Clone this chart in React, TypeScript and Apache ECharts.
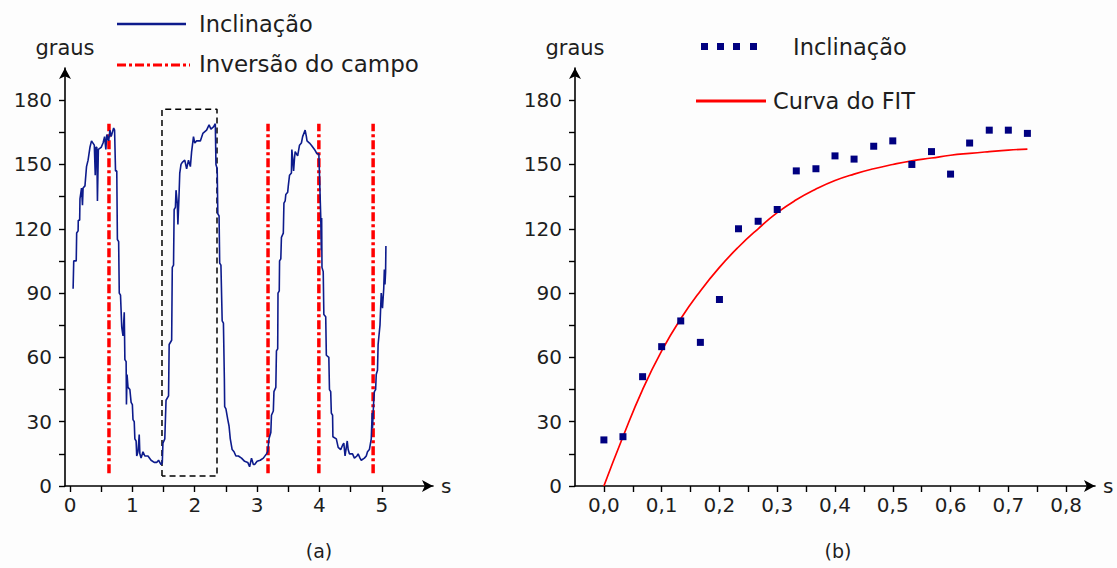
import React, { useEffect, useRef } from "react";
import * as echarts from "echarts";

const FONT = "DejaVu Sans";

// ---- axis ticks / labels ----
const xTicksA = [0, 0.5, 1, 1.5, 2, 2.5, 3, 3.5, 4, 4.5, 5];
const xLabelsA = [0, 1, 2, 3, 4, 5];
const yTicks = [0, 15, 30, 45, 60, 75, 90, 105, 120, 135, 150, 165, 180];
const yLabels = [0, 30, 60, 90, 120, 150, 180];
const xTicksB = [0, 0.05, 0.1, 0.15, 0.2, 0.25, 0.3, 0.35, 0.4, 0.45, 0.5, 0.55, 0.6, 0.65, 0.7, 0.75, 0.8];
const xLabelsB = [0, 0.1, 0.2, 0.3, 0.4, 0.5, 0.6, 0.7, 0.8];

// ---- chart (a): inclinação vs time (s) ----
const inclinacaoA: [number, number][] = [
  [0.05, 92], [0.06, 105], [0.1, 105], [0.107, 118], [0.13, 119], [0.133, 124], [0.155, 124],
  [0.16, 134], [0.185, 139], [0.2, 131], [0.21, 139], [0.24, 140], [0.265, 149], [0.29, 152],
  [0.32, 158], [0.345, 161], [0.39, 159], [0.405, 145], [0.415, 158], [0.43, 158], [0.44, 133],
  [0.455, 157], [0.5, 158], [0.53, 160], [0.555, 163], [0.575, 157], [0.59, 164], [0.62, 161],
  [0.64, 166], [0.66, 163], [0.7, 167], [0.715, 166], [0.73, 147], [0.75, 147], [0.76, 115],
  [0.78, 114], [0.79, 90], [0.81, 89], [0.83, 74], [0.85, 70], [0.87, 81], [0.88, 59],
  [0.9, 58], [0.905, 38], [0.915, 52], [0.93, 46], [0.96, 45], [0.98, 39], [1.0, 38],
  [1.01, 31], [1.03, 30], [1.04, 22], [1.06, 21], [1.07, 14], [1.09, 16], [1.11, 24],
  [1.12, 15], [1.14, 13], [1.17, 16], [1.2, 14], [1.25, 14], [1.3, 12], [1.35, 11],
  [1.39, 11], [1.42, 12], [1.46, 10], [1.48, 11], [1.49, 20], [1.52, 22], [1.54, 40],
  [1.58, 42], [1.59, 66], [1.63, 68], [1.64, 102], [1.66, 103], [1.67, 129], [1.69, 130],
  [1.7, 138], [1.72, 132], [1.73, 122], [1.745, 133], [1.76, 146], [1.78, 150], [1.8, 151],
  [1.84, 152], [1.87, 148], [1.9, 152], [1.93, 149], [1.95, 156], [1.98, 163], [2.0, 160],
  [2.03, 161], [2.09, 161], [2.13, 164.5], [2.19, 166], [2.23, 168.5], [2.26, 166.5],
  [2.3, 167.5], [2.33, 169], [2.34, 150], [2.36, 148], [2.37, 127], [2.39, 126], [2.4, 104],
  [2.42, 103], [2.44, 77], [2.46, 76], [2.475, 50], [2.48, 37], [2.5, 36], [2.53, 31],
  [2.55, 28], [2.57, 22], [2.6, 17], [2.63, 16], [2.66, 14], [2.7, 14], [2.75, 13],
  [2.8, 11.5], [2.85, 11], [2.88, 9], [2.91, 13], [2.94, 10], [2.96, 10], [3.0, 11.5],
  [3.05, 12], [3.1, 13], [3.15, 15], [3.17, 16], [3.19, 22], [3.22, 25], [3.23, 33],
  [3.26, 35], [3.27, 44], [3.3, 46], [3.31, 63], [3.33, 64], [3.335, 90], [3.355, 91],
  [3.36, 105], [3.38, 106], [3.39, 116], [3.42, 118], [3.43, 132], [3.45, 133], [3.46, 136],
  [3.49, 137], [3.5, 140], [3.52, 145], [3.55, 146], [3.557, 157], [3.57, 153], [3.585, 147],
  [3.6, 153], [3.61, 156], [3.65, 154], [3.68, 159], [3.71, 160], [3.73, 163], [3.77, 166],
  [3.79, 163], [3.8, 161], [3.84, 160], [3.87, 159], [3.92, 157], [3.96, 155], [3.99, 155],
  [4.02, 126], [4.03, 110], [4.035, 125], [4.04, 102], [4.06, 100], [4.07, 80], [4.1, 79],
  [4.11, 61], [4.15, 60], [4.16, 45], [4.18, 44], [4.19, 34], [4.21, 33], [4.215, 23],
  [4.27, 22], [4.3, 18], [4.34, 17], [4.37, 19], [4.39, 20], [4.41, 14], [4.43, 18],
  [4.445, 21], [4.46, 17], [4.48, 15], [4.53, 15], [4.56, 13], [4.6, 14], [4.62, 15],
  [4.65, 13], [4.67, 12], [4.72, 13], [4.75, 14], [4.77, 16], [4.8, 17], [4.83, 22],
  [4.845, 34], [4.85, 27], [4.87, 40], [4.88, 44], [4.9, 45], [4.91, 52], [4.93, 54],
  [4.94, 66], [4.97, 75], [4.99, 90], [5.01, 83], [5.03, 92], [5.04, 101], [5.05, 94],
  [5.06, 100], [5.065, 112],
];
const inversaoX = [0.625, 3.175, 3.99, 4.86];
const inversaoY = [6, 169];
const boxX = [1.475, 2.357];
const boxY = [4.7, 175.8];

// ---- chart (b): inclinação points and fit ----
const tempoB = [0, 0.033, 0.067, 0.1, 0.133, 0.167, 0.2, 0.233, 0.267, 0.3, 0.333, 0.367, 0.4,
  0.433, 0.467, 0.5, 0.533, 0.567, 0.6, 0.633, 0.667, 0.7, 0.733];
const inclinacaoB = [21.5, 23, 51, 65, 77, 67, 87, 120, 123.5, 129, 147, 148, 154, 152.5, 158.5,
  161, 150, 156, 145.5, 160, 166, 166, 164.5];
const fitB = [0, 23, 45, 63, 78, 91, 102, 111.5, 120, 127.5, 133.5, 138.5, 142.5, 145.5, 148, 150,
  151.7, 153, 154.3, 155.2, 156, 156.7, 157.2];

const BLUE = "#0d1b8c";
const NAVY = "#000080";
const RED = "#ff0000";
const TXT = "#1e1e1e";

function xAxisCfg(grid: number, min: number, max: number, ticks: number[], labels: number[], fmt: (v: number) => string) {
  return {
    type: "value",
    gridIndex: grid,
    min,
    max,
    name: "s",
    nameLocation: "end",
    nameGap: 8,
    nameTextStyle: { fontFamily: FONT, fontSize: 20, color: TXT, verticalAlign: "middle" },
    axisLine: {
      show: true,
      onZero: false,
      symbol: ["none", "arrow"],
      symbolSize: [9, 11],
      lineStyle: { color: "#000", width: 1.6 },
    },
    axisTick: { show: true, customValues: ticks, length: 6, lineStyle: { color: "#000", width: 1.4 } },
    axisLabel: {
      customValues: labels,
      formatter: fmt,
      fontFamily: FONT,
      fontSize: 20,
      color: TXT,
      margin: 9,
    },
    splitLine: { show: false },
  };
}

function yAxisCfg(grid: number) {
  return {
    type: "value",
    gridIndex: grid,
    min: 0,
    max: 195,
    name: "graus",
    nameLocation: "end",
    nameGap: 10,
    nameTextStyle: { fontFamily: FONT, fontSize: 21, color: TXT },
    axisLine: {
      show: true,
      onZero: false,
      symbol: ["none", "arrow"],
      symbolSize: [9, 11],
      lineStyle: { color: "#000", width: 1.6 },
    },
    axisTick: { show: true, customValues: yTicks, length: 6, lineStyle: { color: "#000", width: 1.4 } },
    axisLabel: {
      customValues: yLabels,
      fontFamily: FONT,
      fontSize: 20,
      color: TXT,
      margin: 13,
    },
    splitLine: { show: false },
  };
}

export default function App() {
  const ref = useRef<HTMLDivElement>(null);
  useEffect(() => {
    if (!ref.current) return;
    const chart = echarts.init(ref.current, null, { renderer: "svg" });

    const inversaoSeries = inversaoX.map((x) => ({
      type: "line",
      xAxisIndex: 0,
      yAxisIndex: 0,
      data: [[x, inversaoY[0]], [x, inversaoY[1]]],
      showSymbol: false,
      symbol: "none",
      silent: true,
      lineStyle: { color: RED, width: 3.5, type: [9, 3, 3, 3] },
      z: 2,
    }));

    const boxData = [
      [boxX[0], boxY[0]], [boxX[0], boxY[1]], [boxX[1], boxY[1]], [boxX[1], boxY[0]], [boxX[0], boxY[0]],
    ];

    const option = {
      animation: false,
      backgroundColor: "#fdfdfd",
      grid: [
        { left: 65, top: 68, width: 368, bottom: 82 },
        { left: 575, top: 68, width: 520, bottom: 82 },
      ],
      xAxis: [
        xAxisCfg(0, -0.08, 5.82, xTicksA, xLabelsA, (v: number) => String(Math.round(v))),
        xAxisCfg(1, -0.05, 0.85, xTicksB, xLabelsB, (v: number) => v.toFixed(1).replace(".", ",")),
      ],
      yAxis: [yAxisCfg(0), yAxisCfg(1)],
      series: [
        ...inversaoSeries,
        {
          type: "line",
          xAxisIndex: 0,
          yAxisIndex: 0,
          data: boxData,
          showSymbol: false,
          symbol: "none",
          lineStyle: { color: "#000", width: 1.5, type: [6, 4] },
          z: 3,
        },
        {
          name: "Inclinação",
          type: "line",
          xAxisIndex: 0,
          yAxisIndex: 0,
          data: inclinacaoA,
          showSymbol: false,
          symbol: "none",
          lineStyle: { color: BLUE, width: 1.6 },
          z: 4,
        },
        {
          name: "Curva do FIT",
          type: "line",
          xAxisIndex: 1,
          yAxisIndex: 1,
          data: tempoB.map((t, i) => [t, fitB[i]]),
          showSymbol: false,
          symbol: "none",
          smooth: 0.5,
          lineStyle: { color: RED, width: 1.7 },
          z: 3,
        },
        {
          name: "Inclinação (b)",
          type: "scatter",
          xAxisIndex: 1,
          yAxisIndex: 1,
          data: tempoB.map((t, i) => [t, inclinacaoB[i]]),
          symbol: "rect",
          symbolSize: 7,
          itemStyle: { color: NAVY, opacity: 1 },
          z: 4,
        },
      ],
      graphic: [
        // legend (a)
        { type: "line", shape: { x1: 117, y1: 24, x2: 186, y2: 24 }, style: { stroke: BLUE, lineWidth: 2.5 } },
        { type: "text", x: 199, y: 24, style: { text: "Inclinação", font: `22.5px '${FONT}'`, fill: TXT, verticalAlign: "middle" } },
        { type: "line", shape: { x1: 117, y1: 65, x2: 190, y2: 65 }, style: { stroke: RED, lineWidth: 3, lineDash: [9, 3, 3, 3] } },
        { type: "text", x: 199, y: 64, style: { text: "Inversão do campo", font: `23px '${FONT}'`, fill: TXT, verticalAlign: "middle" } },
        // legend (b)
        { type: "rect", shape: { x: 701, y: 43, width: 7, height: 7 }, style: { fill: NAVY } },
        { type: "rect", shape: { x: 717, y: 43, width: 7, height: 7 }, style: { fill: NAVY } },
        { type: "rect", shape: { x: 733, y: 43, width: 7, height: 7 }, style: { fill: NAVY } },
        { type: "rect", shape: { x: 750, y: 43, width: 7, height: 7 }, style: { fill: NAVY } },
        { type: "text", x: 793, y: 47, style: { text: "Inclinação", font: `22.5px '${FONT}'`, fill: TXT, verticalAlign: "middle" } },
        { type: "line", shape: { x1: 696, y1: 101, x2: 766, y2: 101 }, style: { stroke: RED, lineWidth: 3 } },
        { type: "text", x: 773, y: 101, style: { text: "Curva do FIT", font: `22.5px '${FONT}'`, fill: TXT, verticalAlign: "middle" } },
        // captions
        { type: "text", x: 319, y: 551, style: { text: "(a)", font: `19px '${FONT}'`, fill: TXT, align: "center", verticalAlign: "middle" } },
        { type: "text", x: 838, y: 551, style: { text: "(b)", font: `19px '${FONT}'`, fill: TXT, align: "center", verticalAlign: "middle" } },
      ],
    };

    chart.setOption(option as any);
    return () => chart.dispose();
  }, []);

  return (
    <div
      ref={ref}
      style={{ position: "fixed", left: 0, top: 0, width: 1117, height: 568, background: "#fdfdfd" }}
    />
  );
}
